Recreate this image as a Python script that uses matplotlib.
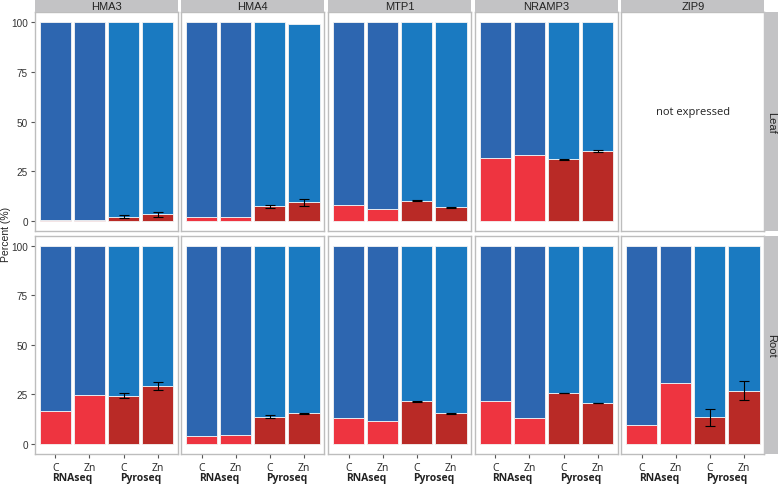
import numpy as np
import matplotlib.pyplot as plt

genes = ["HMA3", "HMA4", "MTP1", "NRAMP3", "ZIP9"]
tissues = ["Leaf", "Root"]
conditions = ["C", "Zn", "C", "Zn"]
methods = ["RNAseq", "Pyroseq"]

# red (lower) share in percent: RNAseq C, RNAseq Zn, Pyroseq C, Pyroseq Zn
leaf_red = {
    "HMA3": [0.3, 0.3, 2.2, 3.5],
    "HMA4": [2.0, 2.0, 7.5, 9.5],
    "MTP1": [8.2, 6.2, 10.2, 6.9],
    "NRAMP3": [31.5, 33.2, 31.0, 35.2],
}
leaf_total = {
    "HMA3": [100, 100, 100, 100],
    "HMA4": [100, 100, 100, 99.3],
    "MTP1": [100, 100, 100, 100],
    "NRAMP3": [100, 100, 100, 100],
}
leaf_err = {
    "HMA3": [0.8, 1.3],
    "HMA4": [0.7, 1.7],
    "MTP1": [0.3, 0.3],
    "NRAMP3": [0.3, 0.3],
}
root_red = {
    "HMA3": [16.7, 24.7, 24.4, 29.3],
    "HMA4": [4.0, 4.7, 13.8, 15.5],
    "MTP1": [13.2, 11.7, 21.5, 15.5],
    "NRAMP3": [21.5, 13.2, 25.7, 20.7],
    "ZIP9": [9.8, 30.9, 13.4, 26.8],
}
root_total = {g: [100, 100, 100, 100] for g in genes}
root_err = {
    "HMA3": [1.1, 2.1],
    "HMA4": [0.9, 0.3],
    "MTP1": [0.3, 0.2],
    "NRAMP3": [0.2, 0.2],
    "ZIP9": [4.3, 4.8],
}

red_rna = "#ee3440"
red_pyro = "#b92a26"
blue_rna = "#2d66b0"
blue_pyro = "#1a7ac1"
border = "#bdbdbd"
strip_col = "#c3c3c5"

plt.rcParams["font.family"] = ["Liberation Sans", "DejaVu Sans"]

W, H = 778, 485
fig = plt.figure(figsize=(W / 100, H / 100), dpi=100)

lefts = [35, 181.3, 328.3, 475, 621.3]
pw = 143
rows = [(13.3, 232), (236.7, 455)]

x = np.arange(1, 5)
for r, tissue in enumerate(tissues):
    top, bot = rows[r]
    reds = leaf_red if r == 0 else root_red
    tots = leaf_total if r == 0 else root_total
    errs = leaf_err if r == 0 else root_err
    for c, gene in enumerate(genes):
        ax = fig.add_axes([lefts[c] / W, 1 - bot / H, pw / W, (bot - top) / H])
        ax.set_xlim(0.4, 4.6)
        ax.set_ylim(-5, 105)
        for sp in ax.spines.values():
            sp.set_color(border)
            sp.set_linewidth(1.0)
        ax.tick_params(axis="both", length=3, width=0.8, color="#555555",
                       labelsize=7.2, labelcolor="#333333", pad=2)
        ax.set_yticks([0, 25, 50, 75, 100])
        if c == 0:
            ax.set_yticklabels(["0", "25", "50", "75", "100"])
        else:
            ax.tick_params(axis="y", length=0, labelleft=False)
        ax.set_xticks(x)
        if r == 1:
            ax.set_xticklabels(conditions, family="Open Sans", fontsize=7.5,
                               color="#222222")
            ax.tick_params(axis="x", pad=3)
            for m, xm in zip(methods, [1.5, 3.5]):
                xf = (lefts[c] + (xm - 0.4) / 4.2 * pw) / W
                fig.text(xf, 1 - 479 / H, m, ha="center", va="center",
                         fontsize=7.5, fontweight="bold", family="Open Sans",
                         color="#222222")
        else:
            ax.tick_params(axis="x", length=0, labelbottom=False)

        if gene in reds:
            red = np.array(reds[gene])
            tot = np.array(tots[gene])
            rc = [red_rna, red_rna, red_pyro, red_pyro]
            bc = [blue_rna, blue_rna, blue_pyro, blue_pyro]
            ax.bar(x, red, width=0.92, color=rc, edgecolor="#f4f4f4", linewidth=0.6)
            ax.bar(x, tot - red, bottom=red, width=0.92, color=bc,
                   edgecolor="#f4f4f4", linewidth=0.6)
            ax.errorbar(x[2:], red[2:], yerr=errs[gene], fmt="none",
                        ecolor="black", elinewidth=0.8, capsize=3.5, capthick=0.8)
        else:
            ax.text(2.5, 55, "not expressed", ha="center", va="center",
                    family="Open Sans", fontsize=8, color="#222222")

        # top strip
        if r == 0:
            sax = fig.add_axes([lefts[c] / W, 1 - 13.3 / H, pw / W, 13.3 / H])
            sax.set_facecolor(strip_col)
            sax.set_xticks([])
            sax.set_yticks([])
            for sp in sax.spines.values():
                sp.set_visible(False)
            sax.text(0.5, 0.45, gene, ha="center", va="center", fontsize=8,
                     color="#222222", transform=sax.transAxes)

    # right strip
    rax = fig.add_axes([764.3 / W, 1 - bot / H, 13.7 / W, (bot - top) / H])
    rax.set_facecolor(strip_col)
    rax.set_xticks([])
    rax.set_yticks([])
    for sp in rax.spines.values():
        sp.set_visible(False)
    rax.text(0.5, 0.5, tissue, rotation=-90, ha="center", va="center",
             fontsize=8, color="#222222", transform=rax.transAxes)

fig.text(6 / W, 1 - 234 / H, "Percent (%)", rotation=90, ha="center",
         va="center", fontsize=7.5, color="#222222")

fig.savefig("out.png", dpi=100, facecolor="white")
